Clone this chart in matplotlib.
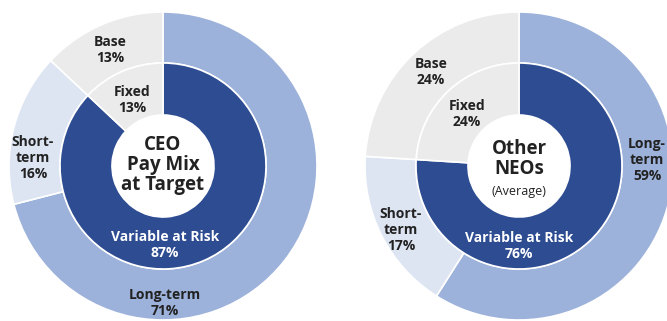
import matplotlib
matplotlib.use("Agg")
import matplotlib.pyplot as plt

# Pay-mix data (percent of target compensation)
outer_labels = ["Long-term", "Short-term", "Base"]
inner_labels = ["Variable at Risk", "Fixed"]

ceo_outer = [71, 16, 13]
ceo_inner = [87, 13]

neo_outer = [59, 17, 24]
neo_inner = [76, 24]

# Colours
C_LONG = "#9DB2DB"
C_SHORT = "#DDE5F3"
C_GRAY = "#EBEBEB"
C_DARK = "#2E4C91"
C_TEXT = "#222222"

W, H = 667, 321
fig = plt.figure(figsize=(W / 100, H / 100), dpi=100)
ax = fig.add_axes([0, 0, 1, 1])

FONT = "Open Sans"
R_OUT, R_MID, R_HOLE = 154, 103, 51


def donut(cx, cy, outer, inner):
    # cy is measured from the top of the canvas
    c = (cx, H - cy)
    ax.pie(outer, radius=R_OUT, center=c, startangle=90, counterclock=False,
           colors=[C_LONG, C_SHORT, C_GRAY],
           wedgeprops=dict(width=R_OUT - R_MID, edgecolor="white", linewidth=1.2))
    ax.pie(inner, radius=R_MID, center=c, startangle=90, counterclock=False,
           colors=[C_DARK, C_GRAY],
           wedgeprops=dict(width=R_MID - R_HOLE, edgecolor="white", linewidth=1.2))


def label(x, y, s, color=C_TEXT, size=10, weight="bold", ls=1.15):
    ax.text(x, H - y, s, ha="center", va="center", fontsize=size,
            fontweight=weight, color=color, family=FONT, linespacing=ls)


# CEO donut
donut(163, 166, ceo_outer, ceo_inner)
label(110, 50, f"Base\n{ceo_outer[2]}%")
label(132, 100, f"Fixed\n{ceo_inner[1]}%")
label(33, 158, f"Short-\nterm\n{ceo_outer[1]}%")
label(165, 245, f"{inner_labels[0]}\n{ceo_inner[0]}%", color="white")
label(165, 303, f"{outer_labels[0]}\n{ceo_outer[0]}%")
label(163, 165, "CEO\nPay Mix\nat Target", size=13.5, ls=1.0)

# Other NEOs donut
donut(519, 166, neo_outer, neo_inner)
label(431, 72, f"Base\n{neo_outer[2]}%")
label(467, 114, f"Fixed\n{neo_inner[1]}%")
label(401, 230, f"Short-\nterm\n{neo_outer[1]}%")
label(519, 246, f"{inner_labels[0]}\n{neo_inner[0]}%", color="white")
label(647, 160, f"Long-\nterm\n{neo_outer[0]}%")
label(519, 159, "Other\nNEOs", size=13.5, ls=1.0)
label(519, 192, "(Average)", size=9, weight="normal")

ax.set_xlim(0, W)
ax.set_ylim(0, H)
ax.set_aspect("equal")
ax.axis("off")

fig.savefig("out.png", dpi=100, facecolor="white")
